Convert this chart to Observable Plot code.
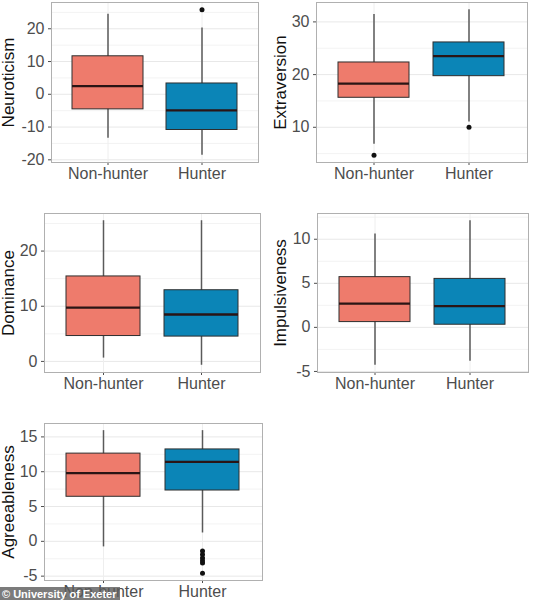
<!DOCTYPE html>
<html>
<head>
<meta charset="utf-8">
<script src="https://cdn.jsdelivr.net/npm/d3@7"></script>
<script src="https://cdn.jsdelivr.net/npm/@observablehq/plot@0.6"></script>
<style>
  body { margin: 0; background: #fff; }
  #chart { position: relative; width: 535px; height: 600px; overflow: hidden; font-family: "Liberation Sans", Arial, sans-serif; }
  #chart svg { position: absolute; overflow: visible; }
  #credit { position: absolute; left: 0; top: 587px; background: rgba(90, 90, 90, 0.8); color: #fff; font: bold 11px "Liberation Sans", Arial, sans-serif; padding: 1px 4px 1px 2px; }
</style>
</head>
<body>
<div id="chart"><div id="credit">© University of Exeter</div></div>
<script>
const groups = ["Non-hunter", "Hunter"];
const traits = ["Neuroticism", "Extraversion", "Dominance", "Impulsiveness", "Agreeableness"];

// one row per trait, [Non-hunter, Hunter]
const whiskerLow  = [[-13.4, -18.6], [6.8, 11.0], [0.6, -0.7], [-4.3, -3.85], [-0.8, 1.2]];
const lowerQ      = [[-4.6, -10.9], [15.6, 19.7], [4.6, 4.5], [0.6, 0.3], [6.4, 7.3]];
const medians     = [[2.5, -4.9], [18.3, 23.5], [9.75, 8.5], [2.7, 2.4], [9.8, 11.4]];
const upperQ      = [[11.6, 3.3], [22.3, 26.1], [15.4, 12.9], [5.7, 5.5], [12.6, 13.2]];
const whiskerHigh = [[24.4, 20.2], [31.4, 32.3], [25.5, 25.5], [10.6, 12.1], [15.9, 15.9]];
const outliers    = [[[], [25.8]], [[4.7], [10.0]], [[], []], [[], []], [[], [-1.4, -1.9, -2.4, -2.8, -3.1, -4.6]]];

const majorTicks = [[-20, -10, 0, 10, 20], [10, 20, 30], [0, 10, 20], [-5, 0, 5, 10], [-5, 0, 5, 10, 15]];
const minorTicks = [[-15, -5, 5, 15, 25], [5, 15, 25], [5, 15, 25], [-2.5, 2.5, 7.5, 12.5], [-2.5, 2.5, 7.5, 12.5]];

const fills = ["#ee7b6c", "#0b85b7"];

// where each panel sits on the page (svg box + frame margins)
const layout = [
  {left: 0,   top: 0,   width: 265, height: 195, ml: 51, mr: 7,  mt: 2,  mb: 33, title: -43},
  {left: 265, top: 0,   width: 270, height: 195, ml: 51, mr: 8,  mt: 2,  mb: 33, title: -36},
  {left: 0,   top: 200, width: 265, height: 205, ml: 44, mr: 5,  mt: 13, mb: 33, title: -36},
  {left: 265, top: 200, width: 270, height: 205, ml: 52, mr: 7,  mt: 13, mb: 33, title: -37},
  {left: 0,   top: 400, width: 268, height: 215, ml: 44, mr: 6,  mt: 23, mb: 35, title: -36}
];

traits.forEach((trait, i) => {
  const rows = groups.map((g, j) => ({
    group: g, lo: whiskerLow[i][j], q1: lowerQ[i][j], med: medians[i][j], q3: upperQ[i][j], hi: whiskerHigh[i][j]
  }));
  const outs = outliers[i].flatMap((vals, j) => vals.map(v => ({group: groups[j], value: v})));
  const all = rows.flatMap(d => [d.lo, d.hi]).concat(outs.map(d => d.value));
  const [mn, mx] = d3.extent(all);
  const pad = (mx - mn) * 0.05; // ggplot default expansion
  const L = layout[i];

  const chart = Plot.plot({
    width: L.width,
    height: L.height,
    marginLeft: L.ml,
    marginRight: L.mr,
    marginTop: L.mt,
    marginBottom: L.mb,
    style: {fontFamily: '"Liberation Sans", Arial, sans-serif', fontSize: "16px", color: "#4d4d4d", background: "transparent"},
    x: {domain: groups, paddingInner: 0.25, paddingOuter: 0.225, label: null, tickSize: 3, tickPadding: 2},
    y: {domain: [mn - pad, mx + pad], ticks: majorTicks[i], label: null, tickSize: 3, tickPadding: 4, tickFormat: d => String(d)},
    color: {domain: groups, range: fills},
    marks: [
      Plot.ruleY(minorTicks[i], {stroke: "#f3f3f3"}),
      Plot.ruleY(majorTicks[i], {stroke: "#e8e8e8"}),
      Plot.ruleX(groups, {stroke: "#eeeeee"}),
      Plot.ruleX(rows, {x: "group", y1: "lo", y2: "hi", stroke: "#5a5a5a", strokeWidth: 1.5}),
      Plot.barY(rows, {x: "group", y1: "q1", y2: "q3", fill: "group", stroke: "#2e2e2e", strokeWidth: 1}),
      Plot.tickY(rows, {x: "group", y: "med", stroke: "#2a1515", strokeWidth: 2.3}),
      Plot.dot(outs, {x: "group", y: "value", r: 2.5, fill: "#111", stroke: null}),
      Plot.frame({stroke: "#b0b0b0"}),
      Plot.text([trait], {frameAnchor: "left", textAnchor: "middle", dx: L.title, rotate: -90, fontSize: 17, fill: "#111"})
    ]
  });
  chart.style.left = L.left + "px";
  chart.style.top = L.top + "px";
  document.getElementById("chart").insertBefore(chart, document.getElementById("credit"));
});
</script>
</body>
</html>
